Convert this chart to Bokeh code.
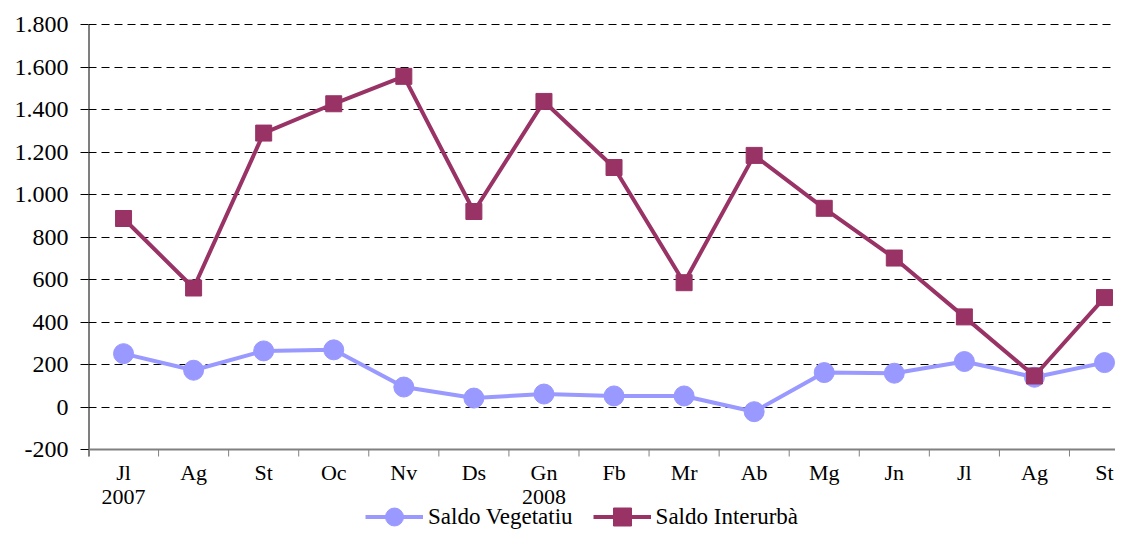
from bokeh.plotting import figure
from bokeh.models import (ColumnDataSource, FixedTicker, Range1d, Legend, LegendItem)
from bokeh.core.properties import value
from bokeh.embed import file_html
from bokeh.resources import INLINE

# ---- data ----
months = ["Jl", "Ag", "St", "Oc", "Nv", "Ds", "Gn", "Fb", "Mr", "Ab", "Mg", "Jn", "Jl", "Ag", "St"]
year_index = [0, 6]
year_labels = ["2007", "2008"]
saldo_vegetatiu = [251, 173, 264, 269, 94, 42, 61, 52, 52, -22, 162, 159, 214, 140, 209]
saldo_interurba = [887, 560, 1289, 1427, 1556, 920, 1438, 1127, 585, 1184, 935, 701, 424, 146, 515]
y_ticks = list(range(-200, 1801, 200))

FONT = "Liberation Serif"
VEG = "#9999FF"
INT = "#993366"

# ---- geometry ----
W, H = 1115, 530
LEFT, TOP = 88, 22
cat_w = 70.07                      # px per category
ppu = 425 / (y_ticks[-1] - y_ticks[0])  # px per data unit on y
frame_h = H - TOP
y_max = y_ticks[-1] + 2 / ppu
y_min = y_max - frame_h / ppu
y_base = y_ticks[0]

def below(px):
    return y_base - px / ppu

n = len(months)
x = [i + 0.5 for i in range(n)]
src = ColumnDataSource(dict(x=x, veg=saldo_vegetatiu, inter=saldo_interurba, m=months))

p = figure(width=W, height=H, output_backend="svg", toolbar_location=None,
           x_range=Range1d(0, (W - LEFT) / cat_w), y_range=Range1d(y_min, y_max),
           min_border_left=LEFT, min_border_right=0, min_border_top=TOP, min_border_bottom=0)
p.outline_line_color = None
p.background_fill_color = "white"
p.border_fill_color = "white"
p.xaxis.visible = False

# grid
yt = FixedTicker(ticks=y_ticks, minor_ticks=[])
p.xgrid.grid_line_color = None
p.ygrid.ticker = yt
p.ygrid.grid_line_color = "black"
p.ygrid.grid_line_width = 1
p.ygrid.grid_line_dash = "8 5"

# y axis (line drawn as glyph so it stops at the category axis)
p.yaxis.ticker = yt
p.yaxis.major_label_overrides = {v: f"{v:,}".replace(",", ".") for v in y_ticks}
p.yaxis.axis_line_color = None
p.yaxis.major_tick_line_color = "black"
p.yaxis.major_tick_out = 8
p.yaxis.major_tick_in = 0
p.yaxis.minor_tick_line_color = None
p.yaxis.major_label_standoff = 12
p.yaxis.major_label_text_font = FONT
p.yaxis.major_label_text_font_size = "24px"
p.yaxis.major_label_text_color = "black"
p.segment(x0=[0], y0=[below(7)], x1=[0], y1=[y_ticks[-1]], line_color="black", line_width=2)

# category axis drawn inside the frame
bounds = list(range(n + 1))
p.segment(x0=[0], y0=[y_base], x1=[n], y1=[y_base], line_color="#808080", line_width=2)
p.segment(x0=bounds, y0=[y_base] * len(bounds), x1=bounds, y1=[below(7)] * len(bounds),
          line_color="#808080", line_width=1)
p.text(x="x", y=below(23), text="m", source=src, text_align="center", text_baseline="middle",
       text_font=value(FONT), text_font_size=value("22px"), text_color="black")
p.text(x=[x[i] for i in year_index], y=[below(47)] * len(year_index), text=year_labels,
       text_align="center", text_baseline="middle",
       text_font=value(FONT), text_font_size=value("22px"), text_color="black")

# series
l1 = p.line("x", "veg", source=src, line_color=VEG, line_width=4)
s1 = p.scatter("x", "veg", source=src, marker="circle", size=20, fill_color=VEG, line_color=VEG)
l2 = p.line("x", "inter", source=src, line_color=INT, line_width=4)
s2 = p.scatter("x", "inter", source=src, marker="square", size=16, fill_color=INT, line_color=INT)

# legend
legend = Legend(items=[LegendItem(label="Saldo Vegetatiu", renderers=[l1, s1]),
                       LegendItem(label="Saldo Interurbà", renderers=[l2, s2])],
                orientation="horizontal", location=(277, -9),
                glyph_width=58, glyph_height=45, label_standoff=5, spacing=20,
                padding=0, margin=0, border_line_color=None, background_fill_alpha=0,
                label_text_font=FONT, label_text_font_size="23px", label_text_color="black")
p.add_layout(legend)

open("out.html", "w").write(file_html(p, INLINE))
